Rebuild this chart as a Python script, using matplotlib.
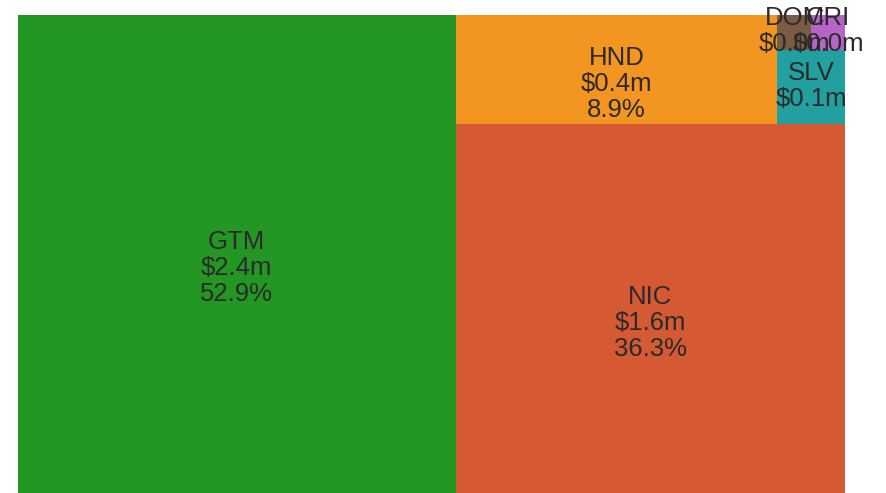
import matplotlib.pyplot as plt
from matplotlib.patches import Rectangle

# totals per country ($m)
countries = ['GTM', 'NIC', 'HND', 'SLV', 'DOM', 'CRI']
amounts = [2.40, 1.647, 0.404, 0.058, 0.0135, 0.0133]
colors = ['#239623', '#d55a34', '#f39521', '#21a09f', '#7a5b44', '#b565c6']

W, H = 827, 478


def worst(row, side):
    s = sum(row)
    return max(max(side * side * r / (s * s), s * s / (side * side * r)) for r in row)


def squarify(vals, x, y, w, h):
    rects = []
    vals = list(vals)
    while vals:
        side = min(w, h)
        row = [vals[0]]
        i = 1
        while i < len(vals) and worst(row + [vals[i]], side) <= worst(row, side):
            row.append(vals[i])
            i += 1
        vals = vals[i:]
        s = sum(row)
        if w >= h:
            cw = s / h
            yy = y
            for r in row:
                rects.append((x, yy, cw, r / cw))
                yy += r / cw
            x += cw
            w -= cw
        else:
            rh = s / w
            xx = x
            for r in row:
                rects.append((xx, y, r / rh, rh))
                xx += r / rh
            y += rh
            h -= rh
    return rects


total = sum(amounts)
areas = [a / total * W * H for a in amounts]
rects = squarify(areas, 0, 0, W, H)

fig = plt.figure(figsize=(8.86, 4.93), dpi=100)
ax = fig.add_axes([18 / 886, 0, W / 886, H / 493])
ax.set_xlim(0, W)
ax.set_ylim(0, H)
ax.axis('off')

for (x, y, w, h), name, amt, col in zip(rects, countries, amounts, colors):
    ax.add_patch(Rectangle((x, y), w, h, facecolor=col, linewidth=0))

for (x, y, w, h), name, amt in zip(rects, countries, amounts):
    pct = amt / total * 100
    lines = [name, f'${amt:.1f}m']
    if pct > 5:
        lines.append(f'{pct:.1f}%')
    n = len(lines)
    shift = -12 if n == 3 else 3
    for i, line in enumerate(lines):
        off = shift - (i - (n - 1) / 2) * 26 - 9
        ax.annotate(line, (x + w / 2, y + h / 2), xytext=(0, off),
                    textcoords='offset pixels', ha='center', va='baseline',
                    fontsize=18.5, family='Liberation Sans', color='#2a2a2a')

fig.savefig('out.png', dpi=100)
